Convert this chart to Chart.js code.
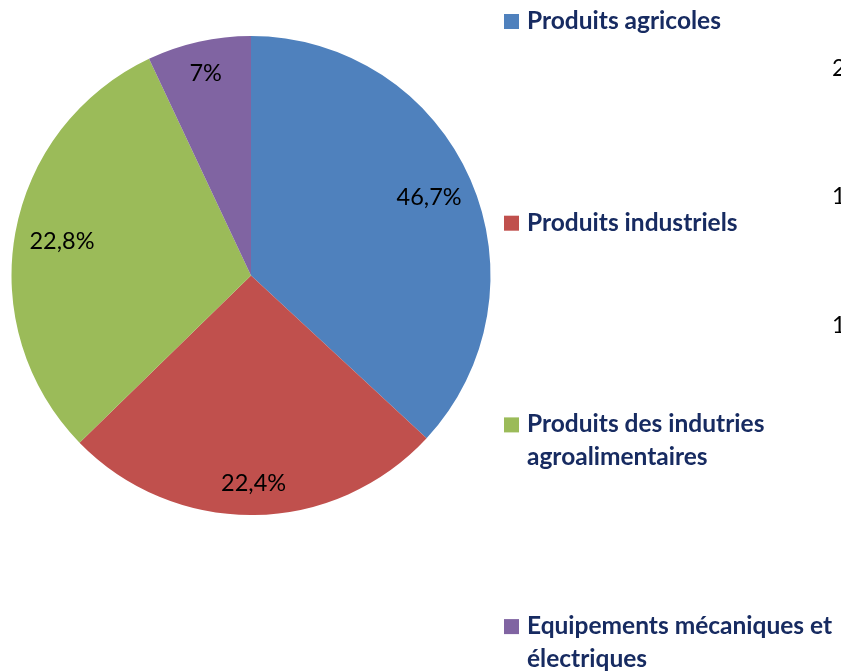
<!DOCTYPE html>
<html>
<head>
<meta charset="utf-8">
<script src="https://cdn.jsdelivr.net/npm/chart.js@4"></script>
<style>
  html, body { margin: 0; padding: 0; background: #fff; }
  #wrap { width: 841px; height: 672px; position: relative; }
</style>
</head>
<body>
<div id="wrap"><canvas id="myChart" width="841" height="672"></canvas></div>
<script>
// catégories (lignes de la légende)
const categories = [
  ["Produits agricoles"],
  ["Produits industriels"],
  ["Produits des indutries", "agroalimentaires"],
  ["Equipements mécaniques et", "électriques"]
];
const valeurs = [36.9, 25.8, 30.3, 7.0];
// étiquettes affichées sur les parts
const etiquettes = ["46,7%", "22,4%", "22,8%", "7%"];
const couleurs = ["#4f81bd", "#c0504d", "#9bbb59", "#8064a2"];
// chiffres coupés d'un autre graphique à droite
const ticksCoupes = ["2", "1", "1"];

const ctx = document.getElementById("myChart");

const etiquettesPlugin = {
  id: "etiquettes",
  afterDatasetsDraw(chart) {
    const c = chart.ctx;
    const arcs = chart.getDatasetMeta(0).data;
    c.save();
    c.font = "23.5px Lato, 'Open Sans', sans-serif";
    c.fillStyle = "#000";
    c.textAlign = "center";
    c.textBaseline = "middle";
    arcs.forEach((arc, i) => {
      const mid = (arc.startAngle + arc.endAngle) / 2;
      const cosV = Math.sin(mid); // composante verticale
      const d = arc.outerRadius * (0.8 + 0.07 * cosV * cosV);
      const x = arc.x + Math.cos(mid) * d;
      const y = arc.y + Math.sin(mid) * d;
      c.fillText(etiquettes[i], x, y);
    });
    c.restore();
  }
};

const legendePlugin = {
  id: "legende",
  afterDraw(chart) {
    const c = chart.ctx;
    c.save();
    c.font = "bold 24.5px Lato, 'Open Sans', sans-serif";
    c.textBaseline = "middle";
    c.textAlign = "left";
    categories.forEach((lignes, i) => {
      const y = 21 + i * 201.7;
      c.fillStyle = couleurs[i];
      c.fillRect(504, y - 7, 15, 15);
      c.fillStyle = "#172b61";
      lignes.forEach((t, j) => {
        c.fillText(t, 527, y + j * 33);
      });
    });
    // graduations coupées
    c.font = "23.5px Lato, 'Open Sans', sans-serif";
    c.fillStyle = "#000";
    ticksCoupes.forEach((t, i) => {
      c.fillText(t, 832, 68 + i * 128.5);
    });
    c.restore();
  }
};

const chart = new Chart(ctx, {
  type: "pie",
  data: {
    labels: categories,
    datasets: [
      {
        data: valeurs,
        backgroundColor: couleurs,
        borderWidth: 0
      }
    ]
  },
  options: {
    responsive: false,
    animation: false,
    layout: {
      padding: { left: 11, top: 36, right: 350, bottom: 157 }
    },
    plugins: {
      legend: { display: false },
      tooltip: { enabled: false }
    }
  },
  plugins: [etiquettesPlugin, legendePlugin]
});
</script>
</body>
</html>
